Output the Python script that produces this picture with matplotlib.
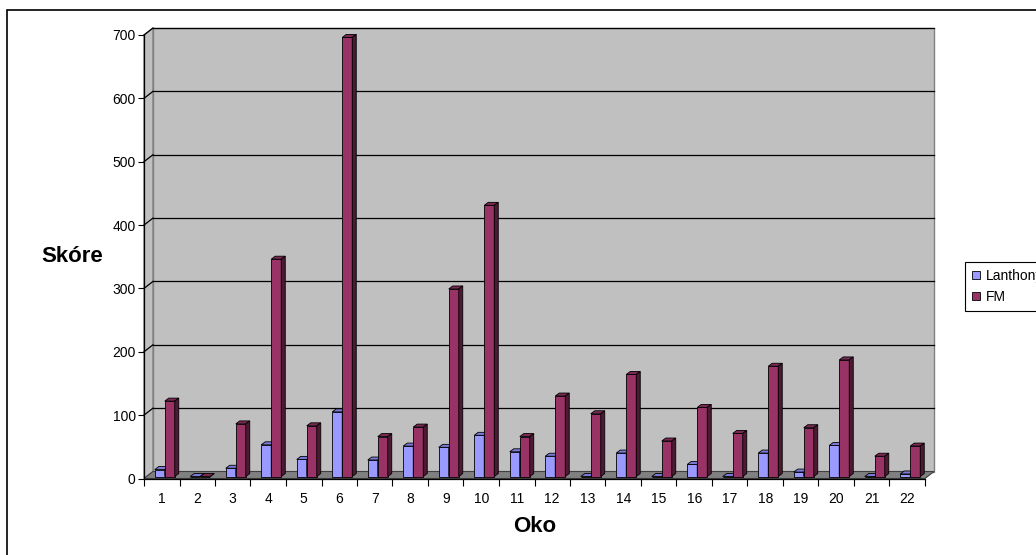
import numpy as np
import matplotlib.pyplot as plt
from matplotlib.patches import Polygon, Rectangle

plt.rcParams['font.family'] = ['Liberation Sans', 'DejaVu Sans']

oko = [str(i) for i in range(1, 23)]
lanthony = [11, 0, 13, 50, 27, 102, 26, 48, 46, 65, 39, 32, 0, 37, 0, 19, 0, 37, 7, 49, 0, 4]
fm = [119, 0, 83, 343, 80, 693, 63, 78, 296, 428, 63, 127, 99, 161, 56, 109, 68, 174, 77, 184, 32, 48]
yticks = [0, 100, 200, 300, 400, 500, 600, 700]

W, H = 1036, 555
fig = plt.figure(figsize=(W / 100, H / 100), dpi=100)

# front plane of the plot, in pixels
px0, px1, py0, py1 = 144, 925, 478.5, 35
ax = fig.add_axes([px0 / W, 1 - py0 / H, (px1 - px0) / W, (py0 - py1) / H])
n = len(oko)
ymax = yticks[-1]
ax.set_xlim(0.5, n + 0.5)
ax.set_ylim(0, ymax)
ax.patch.set_visible(False)

ux = (px1 - px0) / n
uy = (py0 - py1) / ymax


def off(dx, dy):
    # pixel offset -> data offset
    return dx / ux, dy / uy


# walls and floor
wdx, wdy = off(9, 7)
xa, xb = 0.5, n + 0.5
back = Polygon([(xa + wdx, wdy), (xb + wdx, wdy), (xb + wdx, ymax + wdy), (xa + wdx, ymax + wdy)],
               closed=True, facecolor='#c0c0c0', edgecolor='#808080', lw=1, zorder=0.5, clip_on=False)
side = Polygon([(xa, 0), (xa + wdx, wdy), (xa + wdx, ymax + wdy), (xa, ymax)],
               closed=True, facecolor='#c0c0c0', edgecolor='#808080', lw=1, zorder=0.5, clip_on=False)
floor = Polygon([(xa, 0), (xb, 0), (xb + wdx, wdy), (xa + wdx, wdy)],
                closed=True, facecolor='#808080', edgecolor='#404040', lw=0.8, zorder=0.6, clip_on=False)
for p in (back, side, floor):
    ax.add_patch(p)

for k in yticks[1:]:
    ax.plot([xa + wdx, xb + wdx], [k + wdy, k + wdy], color='black', lw=0.9, zorder=0.8, clip_on=False)
    ax.plot([xa, xa + wdx], [k, k + wdy], color='black', lw=0.9, zorder=0.8, clip_on=False)

# 3d columns
pos = np.arange(1, n + 1)
bw = 10 / ux
sx, sy = off(3, 2)
ddx, ddy = off(4, 3)

series = [
    ('Lanthony', lanthony, pos - bw + sx, ('#9999ff', '#7a7ad6', '#4d4d80'), 3.0),
    ('FM', fm, pos + sx, ('#993366', '#7a2952', '#4d1a33'), 3.2),
]
handles = []
for name, vals, left, (c_front, c_top, c_side), z in series:
    bars = ax.bar(left, vals, width=bw, bottom=sy, align='edge', color=c_front,
                  edgecolor='black', lw=0.6, zorder=z, clip_on=False, label=name)
    handles.append(bars)
    for xl, v in zip(left, vals):
        top = sy + v
        xr = xl + bw
        ax.add_patch(Polygon([(xl, top), (xr, top), (xr + ddx, top + ddy), (xl + ddx, top + ddy)],
                             closed=True, facecolor=c_top, edgecolor='black', lw=0.6,
                             zorder=z + 0.1, clip_on=False))
        ax.add_patch(Polygon([(xr, sy), (xr + ddx, sy + ddy), (xr + ddx, top + ddy), (xr, top)],
                             closed=True, facecolor=c_side, edgecolor='black', lw=0.6,
                             zorder=z + 0.1, clip_on=False))

# axes
for s in ('top', 'right'):
    ax.spines[s].set_visible(False)
ax.spines['left'].set_linewidth(0.9)
ax.spines['bottom'].set_linewidth(0.9)
ax.spines['left'].set_zorder(5)
ax.spines['bottom'].set_zorder(5)

ax.set_yticks(yticks)
ax.set_yticklabels([str(t) for t in yticks])
ax.tick_params(axis='y', length=4, width=0.8, pad=2, labelsize=10)

ax.set_xticks(np.arange(0.5, n + 1.5, 1))
ax.set_xticklabels([])
ax.set_xticks(pos, minor=True)
ax.set_xticklabels(oko, minor=True)
ax.tick_params(axis='x', which='major', length=5, width=0.8)
ax.tick_params(axis='x', which='minor', length=0, pad=10, labelsize=10)

ax.set_xlabel('Oko', fontsize=16, fontweight='bold', va='center')
ax.xaxis.set_label_coords(0.5, (py0 - 527) / (py0 - py1))
ax.set_ylabel('Skóre', fontsize=16, fontweight='bold', rotation=0, va='center', ha='center')
ax.yaxis.set_label_coords((72 - px0) / (px1 - px0), (py0 - 257) / (py0 - py1))

leg = ax.legend(handles=handles, loc='upper left', bbox_to_anchor=(965 / W, 1 - 262 / H),
                bbox_transform=fig.transFigure, frameon=True, fancybox=False, edgecolor='black',
                framealpha=1, borderaxespad=0, handlelength=0.6, handleheight=0.6,
                handletextpad=0.4, labelspacing=0.5, borderpad=0.5, fontsize=10)
leg.get_frame().set_linewidth(0.8)

# chart border
fig.add_artist(Rectangle((7 / W, -0.1), 1.2, 1 - 9.5 / H + 0.1, transform=fig.transFigure,
                         fill=False, edgecolor='black', lw=1.2))

fig.savefig('out.png', dpi=100)
